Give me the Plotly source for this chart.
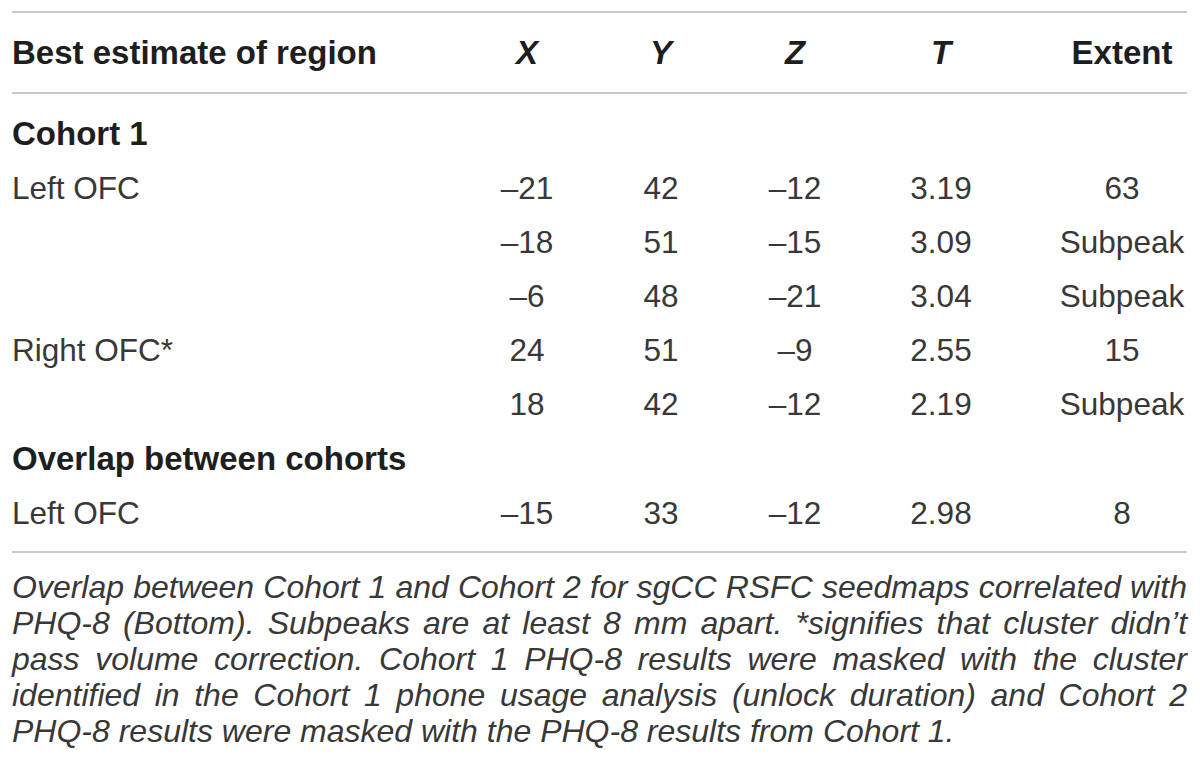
import plotly.graph_objects as go

# ---------------- data ----------------
col_headers = ["Best estimate of region", "X", "Y", "Z", "T", "Extent"]
section_titles = ["Cohort 1", "Overlap between cohorts"]
row_section = [0, 0, 0, 0, 0, 1]
region_labels = ["Left OFC", "", "", "Right OFC*", "", "Left OFC"]
x_vals = [-21, -18, -6, 24, 18, -15]
y_vals = [42, 51, 48, 51, 42, 33]
z_vals = [-12, -15, -21, -9, -12, -12]
t_vals = [3.19, 3.09, 3.04, 2.55, 2.19, 2.98]
extent_vals = ["63", "Subpeak", "Subpeak", "15", "Subpeak", "8"]
caption_lines = [
    "Overlap between Cohort 1 and Cohort 2 for sgCC RSFC seedmaps correlated with",
    "PHQ-8 (Bottom). Subpeaks are at least 8 mm apart. *signifies that cluster didn\u2019t",
    "pass volume correction. Cohort 1 PHQ-8 results were masked with the cluster",
    "identified in the Cohort 1 phone usage analysis (unlock duration) and Cohort 2",
    "PHQ-8 results were masked with the PHQ-8 results from Cohort 1.",
]

# ---------------- layout constants ----------------
PAGE_OFF = 8            # default page margin around the plot div
W, H = 1200 - 2 * PAGE_OFF, 780 - 2 * PAGE_OFF
LEFT, RIGHT = 12, 1187
COL_X = [LEFT, 527, 661, 795, 941, 1122]
VSHIFT = 3.5            # text visual centre sits this much above its anchor
HEADER_Y = 52 + VSHIFT
FIRST_Y = 133 + VSHIFT
ROW_STEP = 54.2
RULES_Y = [12, 93, 552]
CAP_Y0 = 586 + VSHIFT
CAP_STEP = 36.1
FONT = "Liberation Sans, Arial, sans-serif"
BODY_SIZE = 31.5
HEAD_SIZE = 33
CAP_SIZE = 32
TXT = "#383838"
HEAD_TXT = "#1e1e1e"
RULE = "#c9c9c9"

# Arial/Helvetica advance widths (1/1000 em) for justification
AW = {' ': 278, '!': 278, '(': 333, ')': 333, '*': 389, ',': 278, '-': 333, '.': 278,
      '\u2019': 222, "'": 191}
for c in "0123456789":
    AW[c] = 556
AW.update(dict(zip("ABCDEFGHIJKLMNOPQRSTUVWXYZ",
                   [667, 667, 722, 722, 667, 611, 778, 722, 278, 500, 667, 556, 833,
                    722, 778, 667, 778, 722, 667, 611, 722, 667, 944, 667, 667, 611])))
AW.update(dict(zip("abcdefghijklmnopqrstuvwxyz",
                   [556, 556, 500, 556, 556, 278, 556, 556, 222, 222, 500, 222, 833,
                    556, 556, 556, 556, 333, 500, 278, 556, 500, 722, 500, 500, 500])))


def text_w(s, size):
    return sum(AW.get(ch, 556) for ch in s) / 1000.0 * size


def fmt(v):
    return str(v).replace("-", "\u2013")


def txt_trace(xs, ys, texts, pos, size, color):
    return go.Scatter(x=xs, y=ys, mode="text", text=texts, textposition=pos,
                      textfont=dict(family=FONT, size=size, color=color),
                      cliponaxis=False, hoverinfo="skip", showlegend=False)


fig = go.Figure()

# header row
fig.add_trace(txt_trace([COL_X[0]], [HEADER_Y], ["<b>" + col_headers[0] + "</b>"],
                        "middle right", HEAD_SIZE, HEAD_TXT))
hdr_txt = ["<b><i>" + h + "</i></b>" for h in col_headers[1:5]] + ["<b>" + col_headers[5] + "</b>"]
fig.add_trace(txt_trace(COL_X[1:], [HEADER_Y] * 5, hdr_txt, "middle center", HEAD_SIZE, HEAD_TXT))

# slot (line index) for every section title and data row
slots, sec_slot = [], []
slot, prev = 0, None
for s in row_section:
    if s != prev:
        sec_slot.append(slot)
        slot += 1
        prev = s
    slots.append(slot)
    slot += 1
row_y = [FIRST_Y + ROW_STEP * k for k in slots]
sec_y = [FIRST_Y + ROW_STEP * k for k in sec_slot]

# section titles
fig.add_trace(txt_trace([COL_X[0]] * len(section_titles), sec_y,
                        ["<b>" + t + "</b>" for t in section_titles],
                        "middle right", HEAD_SIZE, HEAD_TXT))

# region labels
fig.add_trace(txt_trace([COL_X[0]] * len(region_labels), row_y, region_labels,
                        "middle right", BODY_SIZE, TXT))

# value columns
cols = [x_vals, y_vals, z_vals, [f"{t:.2f}" for t in t_vals], extent_vals]
for ci, vals in enumerate(cols, start=1):
    fig.add_trace(txt_trace([COL_X[ci]] * len(vals), row_y, [fmt(v) for v in vals],
                            "middle center", BODY_SIZE, TXT))

# caption, justified word by word
cap_x, cap_y, cap_t = [], [], []
avail = RIGHT - LEFT
for li, line in enumerate(caption_lines):
    words = line.split(" ")
    ws = [text_w(w, CAP_SIZE) for w in words]
    if li < len(caption_lines) - 1 and len(words) > 1:
        gap = (avail - sum(ws)) / (len(words) - 1)
    else:
        gap = text_w(" ", CAP_SIZE)
    xpos = LEFT
    for w, wd in zip(words, ws):
        cap_x.append(xpos)
        cap_y.append(CAP_Y0 + CAP_STEP * li)
        cap_t.append("<i>" + w + "</i>")
        xpos += wd + gap
fig.add_trace(txt_trace(cap_x, cap_y, cap_t, "middle right", CAP_SIZE, TXT))

# horizontal rules
for ry in RULES_Y:
    fig.add_shape(type="line", x0=LEFT, x1=RIGHT, y0=ry, y1=ry, xref="x", yref="y",
                  line=dict(color=RULE, width=2))

fig.update_layout(
    width=W, height=H, margin=dict(l=0, r=0, t=0, b=0),
    paper_bgcolor="white", plot_bgcolor="white", showlegend=False,
    xaxis=dict(range=[PAGE_OFF, PAGE_OFF + W], visible=False, fixedrange=True),
    yaxis=dict(range=[PAGE_OFF + H, PAGE_OFF], visible=False, fixedrange=True),
)

fig.write_html("out.html")
